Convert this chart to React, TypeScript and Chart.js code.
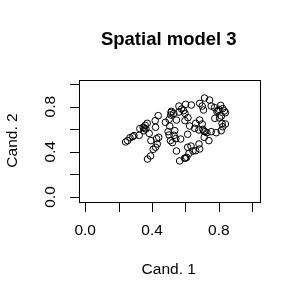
import React, { useEffect, useRef } from "react";
import { Chart, registerables } from "chart.js";

Chart.register(...registerables);

const chartTitle = "Spatial model 3";
const xAxisTitle = "Cand. 1";
const yAxisTitle = "Cand. 2";
const tickValues = [0, 0.2, 0.4, 0.6, 0.8, 1.0];
const tickLabels = ["0.0", "", "0.4", "", "0.8", ""];

const cand1 = [
  0.242, 0.254, 0.268, 0.284, 0.292, 0.323, 0.327, 0.347, 0.359, 0.371, 0.363, 0.351, 0.383, 0.393,
  0.373, 0.391, 0.407, 0.421, 0.431, 0.427, 0.44, 0.421, 0.419, 0.437,
  0.48, 0.502, 0.512, 0.516, 0.53, 0.546, 0.561, 0.577, 0.561, 0.589, 0.601, 0.635,
  0.496, 0.502, 0.51, 0.522, 0.536, 0.532, 0.542, 0.571, 0.546,
  0.565, 0.595, 0.607, 0.621, 0.645, 0.661, 0.681, 0.685, 0.613, 0.633,
  0.613, 0.625, 0.597, 0.615, 0.597, 0.655, 0.661, 0.685, 0.7, 0.681, 0.704, 0.716, 0.728, 0.712, 0.74,
  0.754, 0.784, 0.814, 0.823, 0.839, 0.819,
  0.685, 0.7, 0.708, 0.714, 0.744, 0.754, 0.774, 0.788, 0.8, 0.811, 0.823, 0.833, 0.839, 0.776, 0.804, 0.815,
  0.506, 0.353, 0.514, 0.6, 0.71, 0.795,
];
const cand2 = [
  0.487, 0.499, 0.525, 0.534, 0.543, 0.546, 0.605, 0.617, 0.634, 0.652, 0.602, 0.587, 0.563, 0.499,
  0.336, 0.363, 0.422, 0.44, 0.469, 0.516, 0.528, 0.617, 0.676, 0.72,
  0.661, 0.687, 0.726, 0.758, 0.74, 0.681, 0.752, 0.779, 0.805, 0.764, 0.82, 0.814,
  0.578, 0.549, 0.499, 0.481, 0.587, 0.546, 0.516, 0.513, 0.407,
  0.319, 0.342, 0.351, 0.386, 0.407, 0.41, 0.469, 0.425, 0.44, 0.451,
  0.555, 0.628, 0.676, 0.702, 0.74, 0.608, 0.652, 0.681, 0.646, 0.593, 0.599, 0.578, 0.569, 0.528, 0.499,
  0.578, 0.569, 0.587, 0.622, 0.646, 0.652,
  0.829, 0.805, 0.77, 0.876, 0.858, 0.805, 0.791, 0.758, 0.776, 0.811, 0.782, 0.761, 0.746, 0.696, 0.699, 0.717,
  0.628, 0.61, 0.749, 0.345, 0.585, 0.765,
];

const FONT = "'Liberation Sans', Arial, sans-serif";

const rAxesPlugin = {
  id: "rAxes",
  afterDraw(chart: any) {
    const ctx = chart.ctx;
    const area = chart.chartArea;
    const xs = chart.scales.x;
    const ys = chart.scales.y;
    ctx.save();
    ctx.strokeStyle = "#000";
    ctx.lineWidth = 1;
    ctx.strokeRect(Math.round(area.left) + 0.5, Math.round(area.top) + 0.5,
      Math.round(area.right - area.left), Math.round(area.bottom - area.top));
    const bottom = Math.round(area.bottom) + 0.5;
    const left = Math.round(area.left) + 0.5;
    const tl = 9.5;
    // x axis
    const x0 = Math.round(xs.getPixelForValue(tickValues[0])) + 0.5;
    const x1 = Math.round(xs.getPixelForValue(tickValues[tickValues.length - 1])) + 0.5;
    ctx.beginPath();
    ctx.moveTo(x0, bottom);
    ctx.lineTo(x1, bottom);
    tickValues.forEach((v) => {
      const px = Math.round(xs.getPixelForValue(v)) + 0.5;
      ctx.moveTo(px, bottom);
      ctx.lineTo(px, bottom + tl);
    });
    // y axis
    const y0 = Math.round(ys.getPixelForValue(tickValues[0])) + 0.5;
    const y1 = Math.round(ys.getPixelForValue(tickValues[tickValues.length - 1])) + 0.5;
    ctx.moveTo(left, y0);
    ctx.lineTo(left, y1);
    tickValues.forEach((v) => {
      const py = Math.round(ys.getPixelForValue(v)) + 0.5;
      ctx.moveTo(left, py);
      ctx.lineTo(left - tl, py);
    });
    ctx.stroke();

    ctx.fillStyle = "#000";
    ctx.font = `15.5px ${FONT}`;
    ctx.textAlign = "center";
    ctx.textBaseline = "middle";
    tickValues.forEach((v, i) => {
      if (!tickLabels[i]) return;
      ctx.fillText(tickLabels[i], xs.getPixelForValue(v), 231);
    });
    tickValues.forEach((v, i) => {
      if (!tickLabels[i]) return;
      ctx.save();
      ctx.translate(50.5, ys.getPixelForValue(v));
      ctx.rotate(-Math.PI / 2);
      ctx.fillText(tickLabels[i], 0, 0);
      ctx.restore();
    });
    const cx = (area.left + area.right) / 2;
    const cy = (area.top + area.bottom) / 2;
    ctx.fillText(xAxisTitle, cx, 270);
    ctx.save();
    ctx.translate(12.5, cy);
    ctx.rotate(-Math.PI / 2);
    ctx.fillText(yAxisTitle, 0, 0);
    ctx.restore();
    ctx.font = `bold 18.5px ${FONT}`;
    ctx.fillText(chartTitle, cx, 40);
    ctx.restore();
  },
};

export default function App() {
  const ref = useRef<HTMLCanvasElement | null>(null);
  useEffect(() => {
    if (!ref.current) return;
    const points = cand1.map((x, i) => ({ x, y: cand2[i] }));
    const chart = new Chart(ref.current, {
      type: "scatter",
      data: {
        datasets: [
          {
            data: points,
            pointStyle: "circle",
            pointRadius: 3.3,
            pointBorderWidth: 1,
            pointBorderColor: "#000",
            pointBackgroundColor: "rgba(0,0,0,0)",
          },
        ],
      },
      options: {
        responsive: false,
        animation: false,
        devicePixelRatio: 1,
        layout: { padding: { left: 78.5, right: 41, top: 79.5, bottom: 98.5 } },
        plugins: { legend: { display: false }, tooltip: { enabled: false }, title: { display: false } },
        scales: {
          x: { type: "linear", min: -0.04, max: 1.04, display: false },
          y: { type: "linear", min: -0.04, max: 1.04, display: false },
        },
      },
      plugins: [rAxesPlugin],
    });
    return () => chart.destroy();
  }, []);
  return (
    <div style={{ position: "fixed", left: 0, top: 0, width: 300, height: 300, background: "#fff" }}>
      <canvas ref={ref} width={300} height={300} style={{ width: 300, height: 300, display: "block" }} />
    </div>
  );
}
